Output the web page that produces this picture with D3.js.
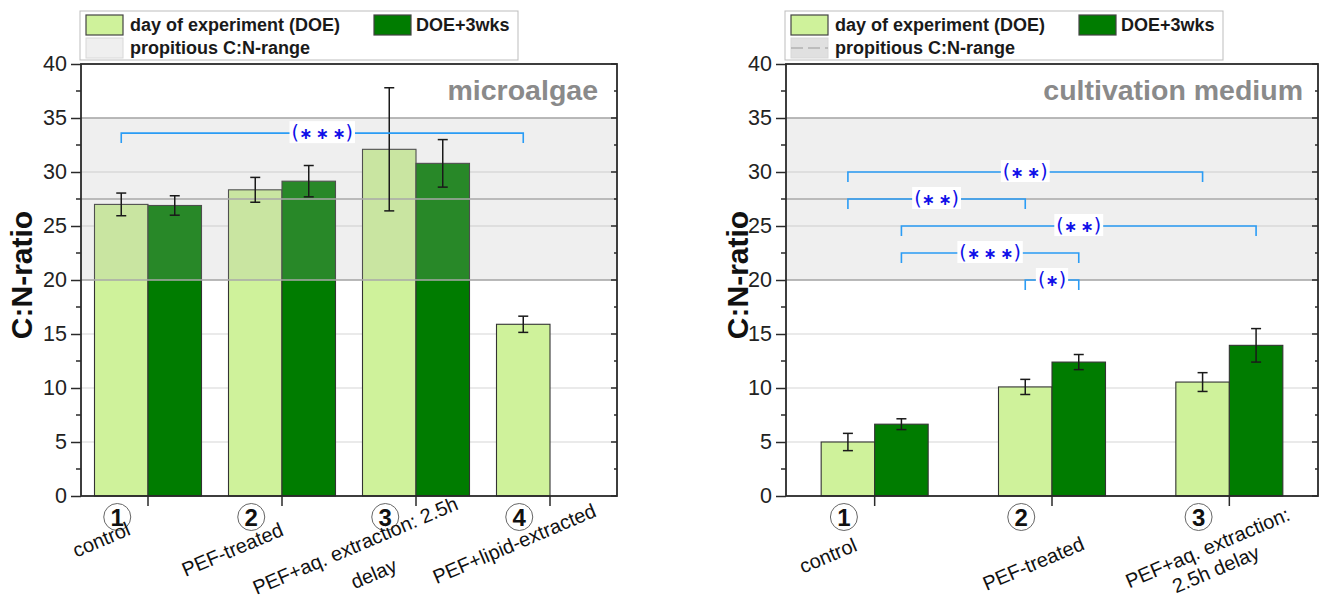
<!DOCTYPE html>
<html>
<head>
<meta charset="utf-8">
<script src="https://cdn.jsdelivr.net/npm/d3@7/dist/d3.min.js"></script>
<style>
  html, body { margin: 0; padding: 0; background: #fff; }
  svg { display: block; font-family: "Liberation Sans", Arial, sans-serif; }
</style>
</head>
<body>
<svg id="chart" width="1328" height="600"></svg>
<script>
// ---------- data ----------
const algaeCategories = ["control", "PEF-treated", "PEF+aq. extraction: 2.5h|delay", "PEF+lipid-extracted"];
const algaeDOE        = [27.0, 28.35, 32.1, 15.9];
const algaeDOEErr     = [1.05, 1.15, 5.7, 0.75];
const algae3wks       = [26.9, 29.15, 30.8, null];
const algae3wksErr    = [0.9, 1.45, 2.2, null];

const mediumCategories = ["control", "PEF-treated", "PEF+aq. extraction:|2.5h delay"];
const mediumDOE        = [5.0, 10.1, 10.55];
const mediumDOEErr     = [0.8, 0.7, 0.87];
const medium3wks       = [6.65, 12.4, 13.95];
const medium3wksErr    = [0.5, 0.7, 1.55];

const yTicks = [0, 5, 10, 15, 20, 25, 30, 35, 40];
const rangeLow = 20, rangeMid = 27.5, rangeHigh = 35;

// significance brackets: [groupA, seriesA, groupB, seriesB, level, stars]
const algaeBrackets = [
  [0, 0, 3, 0, 33.6, 3]
];
const mediumBrackets = [
  [0, 0, 2, 0, 30.0, 2],
  [0, 0, 1, 0, 27.5, 2],
  [0, 1, 2, 1, 25.0, 2],
  [0, 1, 1, 1, 22.5, 3],
  [1, 0, 1, 1, 20.0, 1]
];

const seriesNames = ["day of experiment (DOE)", "DOE+3wks"];
const rangeName = "propitious C:N-range";

// ---------- style ----------
const lightGreen = "#cff29b";
const darkGreen = "#007c00";
const axisColor = "#2a2a2a";
const bracketColor = "#2a9cf5";
const starColor = "#1010e8";

const svg = d3.select("#chart");

function drawPanel(cfg) {
  const { x0, x1, top, bottom } = cfg;
  const g = svg.append("g");
  const y = d3.scaleLinear().domain([0, 40]).range([bottom, top]);
  const x = d3.scaleBand().domain(d3.range(cfg.categories.length)).range([x0, x1]).padding(0);
  const barW = 53.5;
  const barX = (i, s) => x(i) + x.bandwidth() / 2 - (s === 0 ? barW : 0);
  const barC = (i, s) => barX(i, s) + barW / 2;

  // gridlines
  g.append("g").selectAll("line").data(yTicks.filter(t => t > 0 && t < 40)).join("line")
    .attr("x1", x0).attr("x2", x1).attr("y1", d => y(d)).attr("y2", d => y(d))
    .attr("stroke", "#d6d6d6").attr("stroke-width", 1.2);

  // bars
  const series = [[cfg.doe, cfg.doeErr], [cfg.wks, cfg.wksErr]];
  series.forEach(([vals, errs], s) => {
    const idx = d3.range(vals.length).filter(i => vals[i] != null);
    g.append("g").selectAll("rect").data(idx).join("rect")
      .attr("x", i => barX(i, s)).attr("width", barW)
      .attr("y", i => y(vals[i])).attr("height", i => y(0) - y(vals[i]))
      .attr("fill", s === 0 ? lightGreen : darkGreen)
      .attr("stroke", "#333").attr("stroke-width", 1.1);
  });

  // propitious range band over the bars
  g.append("rect").attr("x", x0).attr("width", x1 - x0)
    .attr("y", y(rangeHigh)).attr("height", y(rangeLow) - y(rangeHigh))
    .attr("fill", "rgb(182,182,182)").attr("fill-opacity", 0.22);
  g.append("g").selectAll("line").data([rangeLow, rangeMid, rangeHigh]).join("line")
    .attr("x1", x0).attr("x2", x1).attr("y1", d => y(d)).attr("y2", d => y(d))
    .attr("stroke", "#a9a9a9").attr("stroke-width", 1.3);

  // error bars
  series.forEach(([vals, errs], s) => {
    const idx = d3.range(vals.length).filter(i => vals[i] != null);
    const eg = g.append("g").attr("stroke", "#1a1a1a").attr("stroke-width", 1.5);
    idx.forEach(i => {
      const cx = barC(i, s), hi = y(vals[i] + errs[i]), lo = y(vals[i] - errs[i]);
      eg.append("line").attr("x1", cx).attr("x2", cx).attr("y1", hi).attr("y2", lo);
      eg.append("line").attr("x1", cx - 5).attr("x2", cx + 5).attr("y1", hi).attr("y2", hi);
      eg.append("line").attr("x1", cx - 5).attr("x2", cx + 5).attr("y1", lo).attr("y2", lo);
    });
  });

  // significance brackets
  cfg.brackets.forEach(([ga, sa, gb, sb, level, n]) => {
    const xa = barC(ga, sa), xb = barC(gb, sb), yl = y(level);
    g.append("path")
      .attr("d", `M${xa},${yl + 10}V${yl}H${xb}V${yl + 10}`)
      .attr("fill", "none").attr("stroke", bracketColor).attr("stroke-width", 1.6);
    const t = g.append("text").attr("x", (xa + xb) / 2).attr("y", yl + 6)
      .attr("text-anchor", "middle").attr("fill", starColor)
      .attr("font-size", 19).attr("font-family", "DejaVu Sans, sans-serif");
    t.append("tspan").text("(");
    t.append("tspan").attr("font-size", 16).attr("font-weight", "bold")
      .text(d3.range(n).map(() => "\u2217").join("\u2009"));
    t.append("tspan").text(")");
    const bb = t.node().getBBox();
    g.insert("rect", "text:last-of-type")
      .attr("x", bb.x - 2).attr("y", bb.y).attr("width", bb.width + 4).attr("height", bb.height)
      .attr("fill", "#fff");
    t.raise();
  });

  // panel title
  g.append("text").attr("x", x1 - cfg.titleInset).attr("y", top + 36)
    .attr("text-anchor", "end").attr("font-size", 28.5).attr("font-weight", "bold")
    .attr("fill", "#8a8a8a").text(cfg.title);

  // axes
  const yAxis = d3.axisLeft(y).tickValues(yTicks).tickSize(10).tickPadding(4).tickFormat(d3.format("d"));
  const ya = g.append("g").attr("transform", `translate(${x0},0)`).call(yAxis);
  ya.select(".domain").remove();
  ya.selectAll("line").attr("stroke", axisColor).attr("stroke-width", 1.5);
  ya.selectAll("text").attr("font-size", 21.5).attr("fill", "#222").attr("font-family", "Liberation Sans, Arial, sans-serif");
  const minor = d3.range(2.5, 40, 5);
  g.append("g").selectAll("line").data(minor).join("line")
    .attr("x1", x0 - 5).attr("x2", x0).attr("y1", d => y(d)).attr("y2", d => y(d))
    .attr("stroke", axisColor).attr("stroke-width", 1.5);
  // mirrored ticks on right edge
  g.append("g").selectAll("line").data(yTicks.concat(minor)).join("line")
    .attr("x1", d => x1 - (d % 5 === 0 ? 6 : 3)).attr("x2", x1).attr("y1", d => y(d)).attr("y2", d => y(d))
    .attr("stroke", axisColor).attr("stroke-width", 1.5);

  // frame
  g.append("rect").attr("x", x0).attr("y", top).attr("width", x1 - x0).attr("height", bottom - top)
    .attr("fill", "none").attr("stroke", axisColor).attr("stroke-width", 1.8);

  // x ticks at group centres
  g.append("g").selectAll("line").data(d3.range(cfg.categories.length)).join("line")
    .attr("x1", i => x(i) + x.bandwidth() / 2).attr("x2", i => x(i) + x.bandwidth() / 2)
    .attr("y1", bottom).attr("y2", bottom + 10)
    .attr("stroke", axisColor).attr("stroke-width", 1.5);

  // circled group numbers
  cfg.categories.forEach((c, i) => {
    const cx = barC(i, 0) - 4, cy = bottom + 21;
    g.append("circle").attr("cx", cx).attr("cy", cy).attr("r", 13.5)
      .attr("fill", "#fff").attr("stroke", "#666").attr("stroke-width", 1);
    g.append("text").attr("x", cx).attr("y", cy + 8.5).attr("text-anchor", "middle")
      .attr("font-size", 24).attr("font-weight", "bold").attr("fill", "#111").text(i + 1);
  });

  // rotated category labels, one text element per line
  cfg.categories.forEach((c, i) => {
    const lines = c.split("|");
    const [dx, dy] = cfg.labelOffsets[i];
    const cx = x(i) + x.bandwidth() / 2 + dx, cy = bottom + dy;
    lines.forEach((ln, k) => {
      g.append("text").attr("transform", `translate(${cx},${cy}) rotate(-23)`)
        .attr("x", k === 1 ? cfg.secondLine[0] : 0)
        .attr("y", k === 1 ? cfg.secondLine[1] : 0)
        .attr("text-anchor", "middle").attr("font-size", 20).attr("fill", "#111")
        .text(ln);
    });
  });

  // y-axis title
  g.append("text").attr("transform", `translate(${cfg.yTitleX},${(top + bottom) / 2 - 5}) rotate(-90)`)
    .attr("text-anchor", "middle").attr("font-size", 30).attr("font-weight", "bold")
    .attr("fill", "#111").text("C:N-ratio");

  // legend
  const L = g.append("g").attr("transform", `translate(${x0},0)`);
  L.append("rect").attr("x", -1).attr("y", 11).attr("width", 438).attr("height", 49)
    .attr("fill", "#fff").attr("stroke", "#bdbdbd").attr("stroke-width", 1);
  L.append("rect").attr("x", 5).attr("y", 15).attr("width", 37).attr("height", 20)
    .attr("fill", lightGreen).attr("stroke", "#444").attr("stroke-width", 1.2);
  L.append("rect").attr("x", 293).attr("y", 15).attr("width", 37).attr("height", 20)
    .attr("fill", darkGreen).attr("stroke", "#444").attr("stroke-width", 1.2);
  L.append("rect").attr("x", 5).attr("y", 38).attr("width", 37).attr("height", 20)
    .attr("fill", cfg.dashedSwatch ? "#e0e0e0" : "#efefef").attr("stroke", "#d8d8d8").attr("stroke-width", 1);
  if (cfg.dashedSwatch) {
    L.append("line").attr("x1", 5).attr("x2", 42).attr("y1", 48).attr("y2", 48)
      .attr("stroke", "#9a9a9a").attr("stroke-width", 1.2).attr("stroke-dasharray", "12,5");
  }
  const legendText = [[49, 31, seriesNames[0]], [335, 31, seriesNames[1]], [49, 54, rangeName]];
  legendText.forEach(([lx, ly, s]) => {
    L.append("text").attr("x", lx).attr("y", ly).attr("font-size", 18).attr("font-weight", "bold")
      .attr("fill", "#1a1a1a").text(s);
  });
}

drawPanel({
  x0: 81, x1: 617, top: 64, bottom: 496,
  categories: algaeCategories,
  doe: algaeDOE, doeErr: algaeDOEErr, wks: algae3wks, wksErr: algae3wksErr,
  brackets: algaeBrackets,
  title: "microalgae", titleInset: 19,
  yTitleX: 32,
  labelOffsets: [[-44, 50], [-47, 60], [-58, 56], [-33, 54]],
  secondLine: [6, 33],
  dashedSwatch: false
});

drawPanel({
  x0: 786, x1: 1318, top: 64, bottom: 496,
  categories: mediumCategories,
  doe: mediumDOE, doeErr: mediumDOEErr, wks: medium3wks, wksErr: medium3wksErr,
  brackets: mediumBrackets,
  title: "cultivation medium", titleInset: 15,
  yTitleX: 748,
  labelOffsets: [[-44, 66], [-16, 74], [-19, 58]],
  secondLine: [-1, 23],
  dashedSwatch: true
});
</script>
</body>
</html>
